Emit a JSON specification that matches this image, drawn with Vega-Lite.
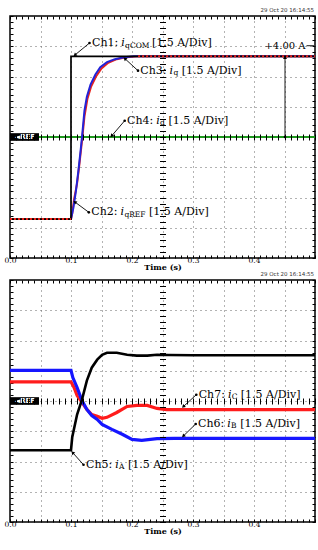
{
  "$schema": "https://vega.github.io/schema/vega-lite/v6.json",
  "background": "white",
  "padding": {"left": 2, "top": 7, "right": 0, "bottom": 0},
  "spacing": -2,
  "config": {
    "view": {"stroke": "black", "strokeWidth": 1.5},
    "font": "DejaVu Serif"
  },
  "datasets": {
    "iqcom": [{"t": 0, "a": -4.07}, {"t": 0.1, "a": -4.07}, {"t": 0.1, "a": 4.0}, {"t": 0.5, "a": 4.0}],
    "iqref": [{"t": 0, "a": -4.07}, {"t": 0.1, "a": -4.07}, {"t": 0.102, "a": -3.8}, {"t": 0.105, "a": -3.1}, {"t": 0.11, "a": -2.3}, {"t": 0.114, "a": -1.3}, {"t": 0.118, "a": -0.2}, {"t": 0.122, "a": 1.0}, {"t": 0.127, "a": 1.9}, {"t": 0.133, "a": 2.5}, {"t": 0.141, "a": 3.0}, {"t": 0.15, "a": 3.4}, {"t": 0.161, "a": 3.68}, {"t": 0.175, "a": 3.86}, {"t": 0.19, "a": 3.95}, {"t": 0.21, "a": 4.0}, {"t": 0.5, "a": 4.0}],
    "iq": [{"t": 0.1, "a": -4.07}, {"t": 0.104, "a": -3.5}, {"t": 0.108, "a": -2.7}, {"t": 0.112, "a": -1.7}, {"t": 0.116, "a": -0.6}, {"t": 0.119, "a": 0.3}, {"t": 0.122, "a": 1.3}, {"t": 0.126, "a": 2.0}, {"t": 0.132, "a": 2.6}, {"t": 0.14, "a": 3.1}, {"t": 0.148, "a": 3.46}, {"t": 0.159, "a": 3.71}, {"t": 0.172, "a": 3.86}, {"t": 0.187, "a": 3.95}, {"t": 0.203, "a": 4.0}, {"t": 0.5, "a": 4.0}],
    "id": [{"t": 0, "a": 0}, {"t": 0.5, "a": 0}],
    "ia": [{"t": 0, "a": -2.44}, {"t": 0.1, "a": -2.44}, {"t": 0.102, "a": -1.8}, {"t": 0.11, "a": -0.67}, {"t": 0.118, "a": 0.07}, {"t": 0.126, "a": 1.01}, {"t": 0.134, "a": 1.65}, {"t": 0.143, "a": 2.05}, {"t": 0.151, "a": 2.29}, {"t": 0.159, "a": 2.39}, {"t": 0.175, "a": 2.39}, {"t": 0.192, "a": 2.29}, {"t": 0.208, "a": 2.25}, {"t": 0.225, "a": 2.25}, {"t": 0.241, "a": 2.29}, {"t": 0.26, "a": 2.28}, {"t": 0.3, "a": 2.27}, {"t": 0.5, "a": 2.27}],
    "ib": [{"t": 0, "a": 1.52}, {"t": 0.1, "a": 1.52}, {"t": 0.103, "a": 1.16}, {"t": 0.11, "a": 0.67}, {"t": 0.118, "a": 0.02}, {"t": 0.126, "a": -0.42}, {"t": 0.134, "a": -0.72}, {"t": 0.143, "a": -0.91}, {"t": 0.151, "a": -1.16}, {"t": 0.167, "a": -1.41}, {"t": 0.184, "a": -1.65}, {"t": 0.2, "a": -1.9}, {"t": 0.216, "a": -1.95}, {"t": 0.241, "a": -1.87}, {"t": 0.27, "a": -1.85}, {"t": 0.5, "a": -1.85}],
    "ic": [{"t": 0, "a": 0.95}, {"t": 0.1, "a": 0.95}, {"t": 0.105, "a": 0.67}, {"t": 0.11, "a": 0.27}, {"t": 0.118, "a": -0.07}, {"t": 0.126, "a": -0.42}, {"t": 0.134, "a": -0.67}, {"t": 0.143, "a": -0.76}, {"t": 0.151, "a": -0.86}, {"t": 0.159, "a": -0.81}, {"t": 0.175, "a": -0.57}, {"t": 0.192, "a": -0.27}, {"t": 0.208, "a": -0.22}, {"t": 0.225, "a": -0.22}, {"t": 0.241, "a": -0.37}, {"t": 0.257, "a": -0.43}, {"t": 0.5, "a": -0.43}],
    "arrTop": [{"t1": 0.13033, "a1": 4.661, "t2": 0.10705, "a2": 4.081}, {"t1": 0.20984, "a1": 3.288, "t2": 0.18902, "a2": 3.868}, {"t1": 0.18803, "a1": 0.808, "t2": 0.16721, "a2": 0.074}, {"t1": 0.12918, "a1": -3.734, "t2": 0.10705, "a2": -3.238}, {"t1": 0.45082, "a1": 0, "t2": 0.45082, "a2": 3.92}],
    "arrBot": [{"t1": 0.30541, "a1": 0.312, "t2": 0.28475, "a2": -0.263}, {"t1": 0.30443, "a1": -1.14, "t2": 0.28475, "a2": -1.721}, {"t1": 0.12049, "a1": -3.159, "t2": 0.10328, "a2": -2.578}],
    "txtTop": [{"t": 0.13443, "a": 4.661, "text": "Ch1:"}, {"t": 0.23262, "a": 4.661, "text": "[1.5 A/Div]"}, {"t": 0.21361, "a": 3.288, "text": "Ch3:"}, {"t": 0.28148, "a": 3.288, "text": "[1.5 A/Div]"}, {"t": 0.1918, "a": 0.808, "text": "Ch4:"}, {"t": 0.25967, "a": 0.808, "text": "[1.5 A/Div]"}, {"t": 0.13328, "a": -3.734, "text": "Ch2:"}, {"t": 0.22787, "a": -3.734, "text": "[1.5 A/Div]"}],
    "itTop": [{"t": 0.18246, "a": 4.661, "text": "i"}, {"t": 0.26164, "a": 3.288, "text": "i"}, {"t": 0.23984, "a": 0.808, "text": "i"}, {"t": 0.18131, "a": -3.734, "text": "i"}],
    "subTop": [{"t": 0.18869, "a": 4.661, "text": "qCOM"}, {"t": 0.26787, "a": 3.288, "text": "q"}, {"t": 0.24607, "a": 0.808, "text": "d"}, {"t": 0.18754, "a": -3.734, "text": "qREF"}],
    "txtBot": [{"t": 0.30934, "a": 0.312, "text": "Ch7:"}, {"t": 0.37836, "a": 0.312, "text": "[1.5 A/Div]"}, {"t": 0.3082, "a": -1.14, "text": "Ch6:"}, {"t": 0.37754, "a": -1.14, "text": "[1.5 A/Div]"}, {"t": 0.12459, "a": -3.159, "text": "Ch5:"}, {"t": 0.19344, "a": -3.159, "text": "[1.5 A/Div]"}],
    "itBot": [{"t": 0.35738, "a": 0.312, "text": "i"}, {"t": 0.35623, "a": -1.14, "text": "i"}, {"t": 0.17262, "a": -3.159, "text": "i"}],
    "subBot": [{"t": 0.36361, "a": 0.312, "text": "C"}, {"t": 0.36246, "a": -1.14, "text": "B"}, {"t": 0.17885, "a": -3.159, "text": "A"}],
    "refBox": [{"t1": 0, "t2": 0.0475, "a1": -0.19, "a2": 0.19, "tc": 0.0245, "ac": 0, "text": "◄REF"}],
    "meas": [{"t": 0.48443, "a": 4.527, "text": "+4.00 A", "t1": 0.48607, "t2": 0.49836}]
  },
  "vconcat": [
    {
      "width": 305,
      "height": 242,
      "title": {"text": "29 Oct 20  16:14:55", "anchor": "end", "frame": "group", "limit": 0, "fontSize": 5.5, "font": "DejaVu Sans", "fontWeight": "normal", "color": "#333", "offset": 2, "dx": -1},
      "resolve": {"axis": {"x": "independent", "y": "independent"}},
      "layer": [
        {
          "data": {"name": "id"},
          "mark": {"type": "line", "color": "#1f9a1f", "strokeWidth": 2},
          "encoding": {
            "x": {"field": "t", "type": "quantitative", "scale": {"domain": [0, 0.5], "nice": false, "zero": false}, "axis": {"orient": "bottom", "values": [0.05, 0.1, 0.15, 0.2, 0.25, 0.3, 0.35, 0.4, 0.45], "grid": true, "gridDash": [1, 4], "gridColor": "#666", "gridWidth": 1, "ticks": false, "labels": false, "domain": false, "title": null}},
            "y": {"field": "a", "type": "quantitative", "scale": {"domain": [-6, 6], "nice": false, "zero": false}, "axis": {"orient": "left", "values": [-4.5, -3, -1.5, 0, 1.5, 3, 4.5], "grid": true, "gridDash": [1, 4], "gridColor": "#666", "gridWidth": 1, "ticks": false, "labels": false, "domain": false, "title": null}}
          }
        },
        {
          "data": {"name": "iqref"},
          "mark": {"type": "line", "color": "#e8231c", "strokeWidth": 2},
          "encoding": {
            "x": {"field": "t", "type": "quantitative", "scale": {"domain": [0, 0.5], "nice": false, "zero": false}, "axis": {"orient": "top", "values": [0,0.01,0.02,0.03,0.04,0.05,0.06,0.07,0.08,0.09,0.1,0.11,0.12,0.13,0.14,0.15,0.16,0.17,0.18,0.19,0.2,0.21,0.22,0.23,0.24,0.25,0.26,0.27,0.28,0.29,0.3,0.31,0.32,0.33,0.34,0.35,0.36,0.37,0.38,0.39,0.4,0.41,0.42,0.43,0.44,0.45,0.46,0.47,0.48,0.49,0.5], "tickSize": -3, "tickColor": "black", "domain": false, "grid": false, "labels": false, "title": null}},
            "y": {"field": "a", "type": "quantitative", "scale": {"domain": [-6, 6], "nice": false, "zero": false}, "axis": {"orient": "right", "values": [-6,-5.7,-5.4,-5.1,-4.8,-4.5,-4.2,-3.9,-3.6,-3.3,-3,-2.7,-2.4,-2.1,-1.8,-1.5,-1.2,-0.9,-0.6,-0.3,0,0.3,0.6,0.9,1.2,1.5,1.8,2.1,2.4,2.7,3,3.3,3.6,3.9,4.2,4.5,4.8,5.1,5.4,5.7,6], "tickSize": -3, "tickColor": "black", "domain": false, "grid": false, "labels": false, "title": null}}
          }
        },
        {
          "data": {"name": "iq"},
          "mark": {"type": "line", "color": "#2323d8", "strokeWidth": 2},
          "encoding": {
            "x": {"field": "t", "type": "quantitative", "scale": {"domain": [0, 0.5], "nice": false, "zero": false}, "axis": {"orient": "bottom", "offset": -124, "values": [0,0.01,0.02,0.03,0.04,0.05,0.06,0.07,0.08,0.09,0.1,0.11,0.12,0.13,0.14,0.15,0.16,0.17,0.18,0.19,0.2,0.21,0.22,0.23,0.24,0.25,0.26,0.27,0.28,0.29,0.3,0.31,0.32,0.33,0.34,0.35,0.36,0.37,0.38,0.39,0.4,0.41,0.42,0.43,0.44,0.45,0.46,0.47,0.48,0.49,0.5], "tickSize": 6, "tickColor": "black", "domain": false, "grid": false, "labels": false, "title": null, "zindex": 1}},
            "y": {"field": "a", "type": "quantitative", "scale": {"domain": [-6, 6], "nice": false, "zero": false}, "axis": {"orient": "left", "offset": -155.5, "values": [-6,-5.7,-5.4,-5.1,-4.8,-4.5,-4.2,-3.9,-3.6,-3.3,-3,-2.7,-2.4,-2.1,-1.8,-1.5,-1.2,-0.9,-0.6,-0.3,0,0.3,0.6,0.9,1.2,1.5,1.8,2.1,2.4,2.7,3,3.3,3.6,3.9,4.2,4.5,4.8,5.1,5.4,5.7,6], "tickSize": 6, "tickColor": "black", "domain": false, "grid": false, "labels": false, "title": null, "zindex": 1}}
          }
        },
        {
          "data": {"name": "iqcom"},
          "mark": {"type": "line", "color": "black", "strokeWidth": 1.7},
          "encoding": {
            "x": {"field": "t", "type": "quantitative", "scale": {"domain": [0, 0.5], "nice": false, "zero": false}, "axis": {"orient": "bottom", "values": [0,0.01,0.02,0.03,0.04,0.05,0.06,0.07,0.08,0.09,0.1,0.11,0.12,0.13,0.14,0.15,0.16,0.17,0.18,0.19,0.2,0.21,0.22,0.23,0.24,0.25,0.26,0.27,0.28,0.29,0.3,0.31,0.32,0.33,0.34,0.35,0.36,0.37,0.38,0.39,0.4,0.41,0.42,0.43,0.44,0.45,0.46,0.47,0.48,0.49,0.5], "tickSize": -3, "tickColor": "black", "domain": false, "grid": false, "labelExpr": "round(datum.value*100) % 10 == 0 && datum.value < 0.45 ? format(datum.value, '.1f') : ''", "labelFont": "DejaVu Serif", "labelFontSize": 7.5, "labelColor": "black", "labelPadding": 1, "labelOverlap": false, "labelFlush": false, "title": "Time (s)", "titleFont": "DejaVu Serif", "titleFontSize": 8, "titleFontWeight": "bold", "titleColor": "black", "titlePadding": 0}},
            "y": {"field": "a", "type": "quantitative", "scale": {"domain": [-6, 6], "nice": false, "zero": false}, "axis": {"orient": "left", "values": [-6,-5.7,-5.4,-5.1,-4.8,-4.5,-4.2,-3.9,-3.6,-3.3,-3,-2.7,-2.4,-2.1,-1.8,-1.5,-1.2,-0.9,-0.6,-0.3,0,0.3,0.6,0.9,1.2,1.5,1.8,2.1,2.4,2.7,3,3.3,3.6,3.9,4.2,4.5,4.8,5.1,5.4,5.7,6], "tickSize": -3, "tickColor": "black", "domain": false, "grid": false, "labels": false, "title": null}}
          }
        },
        {
          "data": {"name": "iqref"},
          "transform": [{"filter": "datum.t <= 0.1 || datum.t >= 0.2"}, {"calculate": "datum.t <= 0.1 ? 'pre' : 'post'", "as": "seg"}],
          "mark": {"type": "line", "color": "#e8231c", "strokeWidth": 2, "strokeDash": [2, 2]},
          "encoding": {
            "x": {"field": "t", "type": "quantitative", "axis": null},
            "y": {"field": "a", "type": "quantitative", "axis": null},
            "detail": {"field": "seg"}
          }
        },
        {
          "data": {"name": "arrTop"},
          "mark": {"type": "rule", "color": "black", "strokeWidth": 0.9},
          "encoding": {
            "x": {"field": "t1", "type": "quantitative", "axis": null},
            "y": {"field": "a1", "type": "quantitative", "axis": null},
            "x2": {"field": "t2"},
            "y2": {"field": "a2"}
          }
        },
        {
          "data": {"name": "arrTop"},
          "mark": {"type": "point", "shape": "circle", "filled": true, "color": "black", "size": 7, "opacity": 1},
          "encoding": {
            "x": {"field": "t1", "type": "quantitative", "axis": null},
            "y": {"field": "a1", "type": "quantitative", "axis": null}
          }
        },
        {
          "data": {"name": "arrTop"},
          "transform": [{"calculate": "atan2((datum.t2-datum.t1)*610, (datum.a2-datum.a1)*20.167)*180/PI", "as": "ang"}],
          "mark": {"type": "point", "shape": "triangle", "filled": true, "color": "black", "size": 16, "opacity": 1},
          "encoding": {
            "x": {"field": "t2", "type": "quantitative", "axis": null},
            "y": {"field": "a2", "type": "quantitative", "axis": null},
            "angle": {"field": "ang", "type": "quantitative", "scale": null}
          }
        },
        {
          "data": {"name": "txtTop"},
          "mark": {"type": "text", "align": "left", "baseline": "middle", "font": "DejaVu Serif", "fontSize": 11, "color": "black"},
          "encoding": {
            "x": {"field": "t", "type": "quantitative", "axis": null},
            "y": {"field": "a", "type": "quantitative", "axis": null},
            "text": {"field": "text"}
          }
        },
        {
          "data": {"name": "itTop"},
          "mark": {"type": "text", "align": "left", "baseline": "middle", "font": "DejaVu Serif", "fontSize": 11, "fontStyle": "italic", "color": "black"},
          "encoding": {
            "x": {"field": "t", "type": "quantitative", "axis": null},
            "y": {"field": "a", "type": "quantitative", "axis": null},
            "text": {"field": "text"}
          }
        },
        {
          "data": {"name": "subTop"},
          "mark": {"type": "text", "align": "left", "baseline": "middle", "font": "DejaVu Serif", "fontSize": 7.5, "dy": 2.5, "color": "black"},
          "encoding": {
            "x": {"field": "t", "type": "quantitative", "axis": null},
            "y": {"field": "a", "type": "quantitative", "axis": null},
            "text": {"field": "text"}
          }
        },
        {
          "data": {"name": "meas"},
          "mark": {"type": "text", "align": "right", "baseline": "middle", "font": "DejaVu Serif", "fontSize": 10, "color": "black"},
          "encoding": {
            "x": {"field": "t", "type": "quantitative", "axis": null},
            "y": {"field": "a", "type": "quantitative", "axis": null},
            "text": {"field": "text"}
          }
        },
        {
          "data": {"name": "meas"},
          "mark": {"type": "rule", "color": "black", "strokeWidth": 0.9},
          "encoding": {
            "x": {"field": "t1", "type": "quantitative", "axis": null},
            "x2": {"field": "t2"},
            "y": {"field": "a", "type": "quantitative", "axis": null}
          }
        },
        {
          "data": {"name": "refBox"},
          "mark": {"type": "rect", "color": "black"},
          "encoding": {
            "x": {"field": "t1", "type": "quantitative", "axis": null},
            "x2": {"field": "t2"},
            "y": {"field": "a1", "type": "quantitative", "axis": null},
            "y2": {"field": "a2"}
          }
        },
        {
          "data": {"name": "refBox"},
          "mark": {"type": "text", "align": "center", "baseline": "middle", "font": "DejaVu Sans", "fontSize": 7, "fontWeight": "bold", "color": "white"},
          "encoding": {
            "x": {"field": "tc", "type": "quantitative", "axis": null},
            "y": {"field": "ac", "type": "quantitative", "axis": null},
            "text": {"field": "text"}
          }
        }
      ]
    },
    {
      "width": 305,
      "height": 242,
      "title": {"text": "29 Oct 20  16:14:55", "anchor": "end", "frame": "group", "limit": 0, "fontSize": 5.5, "font": "DejaVu Sans", "fontWeight": "normal", "color": "#333", "offset": 2, "dx": -1},
      "resolve": {"axis": {"x": "independent", "y": "independent"}},
      "layer": [
        {
          "data": {"name": "ic"},
          "mark": {"type": "line", "color": "#ff1c1c", "strokeWidth": 3.2},
          "encoding": {
            "x": {"field": "t", "type": "quantitative", "scale": {"domain": [0, 0.5], "nice": false, "zero": false}, "axis": {"orient": "bottom", "values": [0.05, 0.1, 0.15, 0.2, 0.25, 0.3, 0.35, 0.4, 0.45], "grid": true, "gridDash": [1, 4], "gridColor": "#666", "gridWidth": 1, "ticks": false, "labels": false, "domain": false, "title": null}},
            "y": {"field": "a", "type": "quantitative", "scale": {"domain": [-6, 6], "nice": false, "zero": false}, "axis": {"orient": "left", "values": [-4.5, -3, -1.5, 0, 1.5, 3, 4.5], "grid": true, "gridDash": [1, 4], "gridColor": "#666", "gridWidth": 1, "ticks": false, "labels": false, "domain": false, "title": null}}
          }
        },
        {
          "data": {"name": "ib"},
          "mark": {"type": "line", "color": "#1616ff", "strokeWidth": 3.2},
          "encoding": {
            "x": {"field": "t", "type": "quantitative", "scale": {"domain": [0, 0.5], "nice": false, "zero": false}, "axis": {"orient": "top", "values": [0,0.01,0.02,0.03,0.04,0.05,0.06,0.07,0.08,0.09,0.1,0.11,0.12,0.13,0.14,0.15,0.16,0.17,0.18,0.19,0.2,0.21,0.22,0.23,0.24,0.25,0.26,0.27,0.28,0.29,0.3,0.31,0.32,0.33,0.34,0.35,0.36,0.37,0.38,0.39,0.4,0.41,0.42,0.43,0.44,0.45,0.46,0.47,0.48,0.49,0.5], "tickSize": -3, "tickColor": "black", "domain": false, "grid": false, "labels": false, "title": null}},
            "y": {"field": "a", "type": "quantitative", "scale": {"domain": [-6, 6], "nice": false, "zero": false}, "axis": {"orient": "right", "values": [-6,-5.7,-5.4,-5.1,-4.8,-4.5,-4.2,-3.9,-3.6,-3.3,-3,-2.7,-2.4,-2.1,-1.8,-1.5,-1.2,-0.9,-0.6,-0.3,0,0.3,0.6,0.9,1.2,1.5,1.8,2.1,2.4,2.7,3,3.3,3.6,3.9,4.2,4.5,4.8,5.1,5.4,5.7,6], "tickSize": -3, "tickColor": "black", "domain": false, "grid": false, "labels": false, "title": null}}
          }
        },
        {
          "data": {"name": "ia"},
          "mark": {"type": "line", "color": "black", "strokeWidth": 2.6},
          "encoding": {
            "x": {"field": "t", "type": "quantitative", "scale": {"domain": [0, 0.5], "nice": false, "zero": false}, "axis": {"orient": "bottom", "values": [0,0.01,0.02,0.03,0.04,0.05,0.06,0.07,0.08,0.09,0.1,0.11,0.12,0.13,0.14,0.15,0.16,0.17,0.18,0.19,0.2,0.21,0.22,0.23,0.24,0.25,0.26,0.27,0.28,0.29,0.3,0.31,0.32,0.33,0.34,0.35,0.36,0.37,0.38,0.39,0.4,0.41,0.42,0.43,0.44,0.45,0.46,0.47,0.48,0.49,0.5], "tickSize": -3, "tickColor": "black", "domain": false, "grid": false, "labelExpr": "round(datum.value*100) % 10 == 0 && datum.value < 0.45 ? format(datum.value, '.1f') : ''", "labelFont": "DejaVu Serif", "labelFontSize": 7.5, "labelColor": "black", "labelPadding": 1, "labelOverlap": false, "labelFlush": false, "title": "Time (s)", "titleFont": "DejaVu Serif", "titleFontSize": 8, "titleFontWeight": "bold", "titleColor": "black", "titlePadding": 0}},
            "y": {"field": "a", "type": "quantitative", "scale": {"domain": [-6, 6], "nice": false, "zero": false}, "axis": {"orient": "left", "values": [-6,-5.7,-5.4,-5.1,-4.8,-4.5,-4.2,-3.9,-3.6,-3.3,-3,-2.7,-2.4,-2.1,-1.8,-1.5,-1.2,-0.9,-0.6,-0.3,0,0.3,0.6,0.9,1.2,1.5,1.8,2.1,2.4,2.7,3,3.3,3.6,3.9,4.2,4.5,4.8,5.1,5.4,5.7,6], "tickSize": -3, "tickColor": "black", "domain": false, "grid": false, "labels": false, "title": null}}
          }
        },
        {
          "data": {"name": "refBox"},
          "mark": {"type": "rect", "color": "black"},
          "encoding": {
            "x": {"field": "t1", "type": "quantitative", "scale": {"domain": [0, 0.5], "nice": false, "zero": false}, "axis": {"orient": "bottom", "offset": -124, "values": [0,0.01,0.02,0.03,0.04,0.05,0.06,0.07,0.08,0.09,0.1,0.11,0.12,0.13,0.14,0.15,0.16,0.17,0.18,0.19,0.2,0.21,0.22,0.23,0.24,0.25,0.26,0.27,0.28,0.29,0.3,0.31,0.32,0.33,0.34,0.35,0.36,0.37,0.38,0.39,0.4,0.41,0.42,0.43,0.44,0.45,0.46,0.47,0.48,0.49,0.5], "tickSize": 6, "tickColor": "black", "domain": false, "grid": false, "labels": false, "title": null, "zindex": 1}},
            "x2": {"field": "t2"},
            "y": {"field": "a1", "type": "quantitative", "scale": {"domain": [-6, 6], "nice": false, "zero": false}, "axis": {"orient": "left", "offset": -155.5, "values": [-6,-5.7,-5.4,-5.1,-4.8,-4.5,-4.2,-3.9,-3.6,-3.3,-3,-2.7,-2.4,-2.1,-1.8,-1.5,-1.2,-0.9,-0.6,-0.3,0,0.3,0.6,0.9,1.2,1.5,1.8,2.1,2.4,2.7,3,3.3,3.6,3.9,4.2,4.5,4.8,5.1,5.4,5.7,6], "tickSize": 6, "tickColor": "black", "domain": false, "grid": false, "labels": false, "title": null, "zindex": 1}},
            "y2": {"field": "a2"}
          }
        },
        {
          "data": {"name": "refBox"},
          "mark": {"type": "text", "align": "center", "baseline": "middle", "font": "DejaVu Sans", "fontSize": 7, "fontWeight": "bold", "color": "white"},
          "encoding": {
            "x": {"field": "tc", "type": "quantitative", "axis": null},
            "y": {"field": "ac", "type": "quantitative", "axis": null},
            "text": {"field": "text"}
          }
        },
        {
          "data": {"name": "arrBot"},
          "mark": {"type": "rule", "color": "black", "strokeWidth": 0.9},
          "encoding": {
            "x": {"field": "t1", "type": "quantitative", "axis": null},
            "y": {"field": "a1", "type": "quantitative", "axis": null},
            "x2": {"field": "t2"},
            "y2": {"field": "a2"}
          }
        },
        {
          "data": {"name": "arrBot"},
          "mark": {"type": "point", "shape": "circle", "filled": true, "color": "black", "size": 7, "opacity": 1},
          "encoding": {
            "x": {"field": "t1", "type": "quantitative", "axis": null},
            "y": {"field": "a1", "type": "quantitative", "axis": null}
          }
        },
        {
          "data": {"name": "arrBot"},
          "transform": [{"calculate": "atan2((datum.t2-datum.t1)*610, (datum.a2-datum.a1)*20.167)*180/PI", "as": "ang"}],
          "mark": {"type": "point", "shape": "triangle", "filled": true, "color": "black", "size": 16, "opacity": 1},
          "encoding": {
            "x": {"field": "t2", "type": "quantitative", "axis": null},
            "y": {"field": "a2", "type": "quantitative", "axis": null},
            "angle": {"field": "ang", "type": "quantitative", "scale": null}
          }
        },
        {
          "data": {"name": "txtBot"},
          "mark": {"type": "text", "align": "left", "baseline": "middle", "font": "DejaVu Serif", "fontSize": 11, "color": "black"},
          "encoding": {
            "x": {"field": "t", "type": "quantitative", "axis": null},
            "y": {"field": "a", "type": "quantitative", "axis": null},
            "text": {"field": "text"}
          }
        },
        {
          "data": {"name": "itBot"},
          "mark": {"type": "text", "align": "left", "baseline": "middle", "font": "DejaVu Serif", "fontSize": 11, "fontStyle": "italic", "color": "black"},
          "encoding": {
            "x": {"field": "t", "type": "quantitative", "axis": null},
            "y": {"field": "a", "type": "quantitative", "axis": null},
            "text": {"field": "text"}
          }
        },
        {
          "data": {"name": "subBot"},
          "mark": {"type": "text", "align": "left", "baseline": "middle", "font": "DejaVu Serif", "fontSize": 7.5, "dy": 2.5, "color": "black"},
          "encoding": {
            "x": {"field": "t", "type": "quantitative", "axis": null},
            "y": {"field": "a", "type": "quantitative", "axis": null},
            "text": {"field": "text"}
          }
        }
      ]
    }
  ]
}
